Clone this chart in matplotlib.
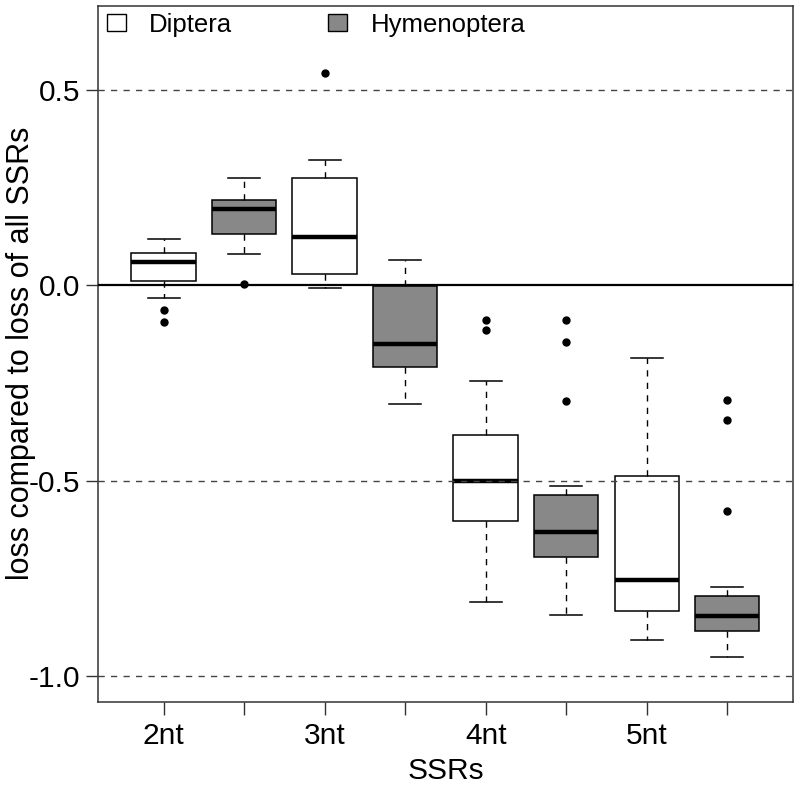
import matplotlib
matplotlib.use('Agg')
import matplotlib.pyplot as plt
from matplotlib.patches import Patch

plt.rcParams['font.family'] = ['Liberation Sans', 'DejaVu Sans']

groups = ['2nt', '3nt', '4nt', '5nt']
orders = ['Diptera', 'Hymenoptera']
fills = ['white', '#888888']

# one entry per box, in plot order: 2nt D, 2nt H, 3nt D, 3nt H, ...
whishi = [0.118, 0.276, 0.320, 0.066, -0.246, -0.514, -0.185, -0.773]
q3 = [0.084, 0.219, 0.275, -0.002, -0.383, -0.536, -0.487, -0.795]
med = [0.059, 0.196, 0.123, -0.149, -0.502, -0.631, -0.755, -0.846]
q1 = [0.012, 0.132, 0.029, -0.209, -0.604, -0.695, -0.833, -0.886]
whislo = [-0.032, 0.079, -0.007, -0.305, -0.811, -0.845, -0.909, -0.951]
fliers = [[-0.062, -0.094], [0.004], [0.543], [],
          [-0.088, -0.115], [-0.088, -0.146, -0.297], [],
          [-0.293, -0.346, -0.579]]

stats = []
for i in range(len(med)):
    stats.append(dict(med=med[i], q1=q1[i], q3=q3[i], whislo=whislo[i],
                      whishi=whishi[i], fliers=fliers[i]))

positions = list(range(1, len(med) + 1))

fig = plt.figure(figsize=(8, 7.87), dpi=100)
ax = fig.add_axes([0.122, 0.1084, 0.8696, 0.8844])

bp = ax.bxp(stats, positions=positions, widths=0.8, patch_artist=True,
            boxprops=dict(edgecolor='black', linewidth=1.1),
            medianprops=dict(color='black', linewidth=3.2, solid_capstyle='butt'),
            whiskerprops=dict(color='black', linewidth=1.0, linestyle=(0, (4.5, 4.5))),
            capprops=dict(color='black', linewidth=1.1),
            flierprops=dict(marker='o', markerfacecolor='black',
                            markeredgecolor='black', markersize=5))
for i, box in enumerate(bp['boxes']):
    box.set_facecolor(fills[i % 2])

for y in [-1.0, -0.5, 0.5]:
    ax.axhline(y, color='#444444', linewidth=1.0, linestyle=(0, (4.5, 4.5)), zorder=5)
ax.axhline(0, color='black', linewidth=1.6, zorder=5)

ax.set_xlim(0.18, 8.82)
ax.set_ylim(-1.066, 0.716)

ax.set_xticks(positions)
ax.set_xticklabels([g if i % 2 == 0 else '' for i, g in
                    enumerate([g for g in groups for _ in orders])])
ax.set_yticks([-1.0, -0.5, 0.0, 0.5])
ax.set_yticklabels(['-1.0', '-0.5', '0.0', '0.5'])
ax.tick_params(axis='both', labelsize=21.5, length=9, width=1.0,
               color='#333333')
ax.tick_params(axis='x', pad=5.5)
ax.tick_params(axis='y', pad=3.5)
for s in ax.spines.values():
    s.set_linewidth(1.1)
    s.set_color('#333333')

ax.set_xlabel('SSRs', fontsize=21.5)
ax.xaxis.set_label_coords(0.5, -0.08)
ax.set_ylabel('loss compared to loss of all SSRs', fontsize=22)
ax.yaxis.set_label_coords(-0.088, 0.5)

handles = [Patch(facecolor=fills[i], edgecolor='black', linewidth=1.0,
                 label=orders[i]) for i in range(2)]
ax.legend(handles=handles, loc='upper left', bbox_to_anchor=(0.013, 0.99),
          ncol=2, frameon=False, fontsize=18.5, borderpad=0, borderaxespad=0,
          handlelength=0.74, handleheight=0.61, handletextpad=0.9,
          columnspacing=3.75)

fig.savefig('out.png', dpi=100)
